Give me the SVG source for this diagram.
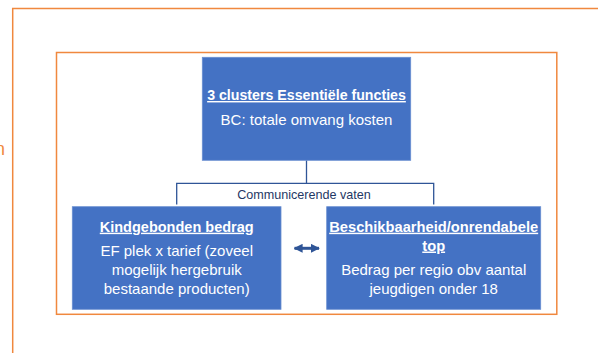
<svg xmlns="http://www.w3.org/2000/svg" width="598" height="353" viewBox="0 0 598 353">
<defs>
<style>
.frame{fill:none;stroke:#f0883e;stroke-width:1.5}
.box{fill:#4472c4;stroke:#6a8fd0;stroke-width:0.8}
.title{font-family:"Liberation Sans",Arial,sans-serif;font-weight:bold;fill:#fff;text-anchor:middle;text-decoration:underline}
.body{font-family:"Liberation Sans",Arial,sans-serif;fill:#fff;text-anchor:middle;font-size:15px}
.conn{fill:none;stroke:#2f5597;stroke-width:1.3}
.lbl{font-family:"Liberation Sans",Arial,sans-serif;fill:#1f3864;font-size:12.6px;text-anchor:middle}
</style>
<marker id="ah" viewBox="0 0 10 10" refX="9" refY="5" markerWidth="3" markerHeight="3" orient="auto-start-reverse">
<path d="M0,0 L10,5 L0,10 Z" fill="#2f5597"/>
</marker>
</defs>
<rect width="598" height="353" fill="#fff"/>
<g id="frames">
<path class="frame" d="M12.7,353 V8.5 H598"/>
<rect class="frame" x="56.5" y="52.5" width="500.3" height="261.8"/>
<text x="-5" y="155" font-family="Liberation Sans, Arial, sans-serif" font-size="18" fill="#f0883e">n</text>
</g>
<g id="connectors">
<path class="conn" d="M306.5,160.3 V183.3 M176.7,204.5 V183.3 H433.7 V204.5"/>
<text class="lbl" x="304" y="199">Communicerende vaten</text>
<line x1="294.5" y1="248.3" x2="319" y2="248.3" stroke="#2f5597" stroke-width="3" marker-start="url(#ah)" marker-end="url(#ah)"/>
</g>
<g id="node-top">
<rect class="box" x="202.3" y="57.3" width="208.4" height="103"/>
<text class="title" x="306.5" y="100" font-size="14.2px">3 clusters Essentiële functies</text>
<text class="body" x="306.5" y="125">BC: totale omvang kosten</text>
</g>
<g id="node-left">
<rect class="box" x="72.3" y="206.7" width="208.7" height="102.6"/>
<text class="title" x="176.7" y="231.7" font-size="14.5px">Kindgebonden bedrag</text>
<text class="body" x="176.7" y="256">EF plek x tarief (zoveel</text>
<text class="body" x="176.7" y="275">mogelijk hergebruik</text>
<text class="body" x="176.7" y="294">bestaande producten)</text>
</g>
<g id="node-right">
<rect class="box" x="326.7" y="206.7" width="214" height="102.6"/>
<text class="title" x="433.7" y="231.7" font-size="14.7px">Beschikbaarheid/onrendabele</text>
<text class="title" x="433.7" y="250.5" font-size="14.7px">top</text>
<text class="body" x="433.7" y="274.5">Bedrag per regio obv aantal</text>
<text class="body" x="433.7" y="294">jeugdigen onder 18</text>
</g>
</svg>
